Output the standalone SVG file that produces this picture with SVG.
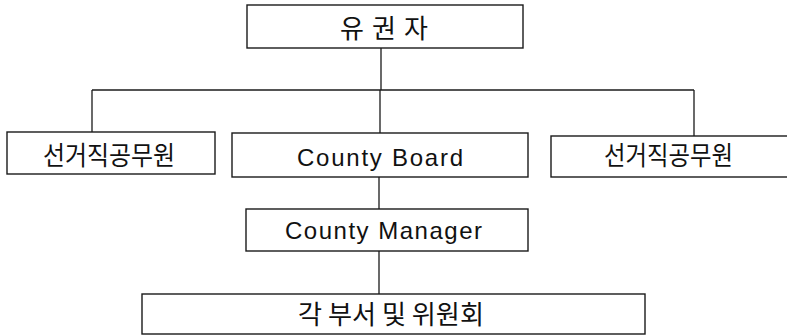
<svg xmlns="http://www.w3.org/2000/svg" width="787" height="336" viewBox="0 0 787 336">
<style>
.box{fill:#fff;stroke:#1a1a1a;stroke-width:1.4}
.ln{fill:none;stroke:#1a1a1a;stroke-width:1.3}
.ko{font-family:"Noto Sans CJK KR","Noto Sans",sans-serif;font-size:26px;fill:#111;text-anchor:middle}
.en{font-family:"Liberation Sans","DejaVu Sans",sans-serif;font-size:24px;fill:#111;text-anchor:middle}
</style>
<rect width="787" height="336" fill="#fff"/>
<g id="connectors">
<line class="ln" x1="381" y1="48" x2="381" y2="90"/>
<line class="ln" x1="92" y1="90" x2="694" y2="90"/>
<line class="ln" x1="92" y1="90" x2="92" y2="132"/>
<line class="ln" x1="694" y1="90" x2="694" y2="136"/>
<line class="ln" x1="380" y1="90" x2="380" y2="133"/>
<line class="ln" x1="379" y1="177" x2="379" y2="209"/>
<line class="ln" x1="379" y1="251" x2="379" y2="294"/>
</g>
<g id="voters">
<rect class="box" x="247" y="5" width="276" height="43"/>
<text class="ko" x="384" y="37.5" font-size="24" textLength="88" lengthAdjust="spacing">유 권 자</text>
</g>
<g id="elected-left">
<rect class="box" x="7" y="132" width="208" height="42"/>
<text class="ko" x="109" y="164.5" textLength="132" lengthAdjust="spacingAndGlyphs">선거직공무원</text>
</g>
<g id="county-board">
<rect class="box" x="232" y="133" width="296" height="44"/>
<text class="en" x="380" y="166" font-size="25" textLength="166" lengthAdjust="spacing">County Board</text>
</g>
<g id="elected-right">
<rect class="box" x="551" y="136" width="240" height="41"/>
<text class="ko" x="668.5" y="164.5" textLength="129" lengthAdjust="spacingAndGlyphs">선거직공무원</text>
</g>
<g id="county-manager">
<rect class="box" x="246" y="209" width="282" height="42"/>
<text class="en" x="383.5" y="239" textLength="197" lengthAdjust="spacing">County Manager</text>
</g>
<g id="departments">
<rect class="box" x="142" y="294" width="503" height="40"/>
<text class="ko" x="391" y="324" font-size="24" textLength="186" lengthAdjust="spacingAndGlyphs">각 부서 및 위원회</text>
</g>
</svg>
